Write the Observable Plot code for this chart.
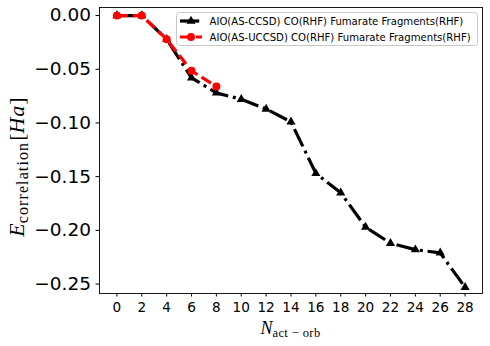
<!DOCTYPE html>
<html><head><meta charset="utf-8">
<script src="https://cdn.jsdelivr.net/npm/d3@7"></script>
<script src="https://cdn.jsdelivr.net/npm/@observablehq/plot@0.6"></script>
<style>body{margin:0;background:#fff;} #chart{width:490px;height:346px;}</style>
</head><body><div id="chart"></div>
<script>
const nOrb = [0, 2, 4, 6, 8, 10, 12, 14, 16, 18, 20, 22, 24, 26, 28];
const ccsdE = [0, 0, -0.022, -0.058, -0.072, -0.078, -0.087, -0.099, -0.147, -0.165, -0.197, -0.212, -0.218, -0.221, -0.253];
const nOrbU = [0, 2, 4, 6, 8];
const uccsdE = [0, 0, -0.022, -0.0515, -0.066];
const xTicks = [0, 2, 4, 6, 8, 10, 12, 14, 16, 18, 20, 22, 24, 26, 28];
const yTicks = [0, -0.05, -0.10, -0.15, -0.20, -0.25];
const seriesNames = ["AIO(AS-CCSD) CO(RHF) Fumarate Fragments(RHF)", "AIO(AS-UCCSD) CO(RHF) Fumarate Fragments(RHF)"];
const seriesColors = ["#000000", "#ff0000"];

const ccsd = nOrb.map((x, i) => ({x, y: ccsdE[i]}));
const uccsd = nOrbU.map((x, i) => ({x, y: uccsdE[i]}));

const dashDot = "19.2,4.8,3,4.8";
const dashed = "11.1,4.8";

const chart = Plot.plot({
  width: 490, height: 346,
  marginLeft: 99, marginRight: 8, marginTop: 7, marginBottom: 53,
  style: {fontFamily: "DejaVu Sans", background: "#fff", color: "#000"},
  x: {domain: [-1.4, 29.4]},
  y: {domain: [-0.2588, 0.0075]},
  marks: [
    Plot.axisX({ticks: xTicks, tickSize: 3.5, tickPadding: 5.5, fontSize: 13.6, label: null, tickFormat: d => String(d)}),
    Plot.axisY({ticks: yTicks, tickSize: 3.5, tickPadding: 5, fontSize: 18.5, label: null, tickFormat: d3.format(".2f")}),
    Plot.line(ccsd, {x: "x", y: "y", stroke: seriesColors[0], strokeWidth: 3.2, strokeDasharray: dashDot, strokeLinecap: "butt", strokeLinejoin: "round"}),
    Plot.dot(ccsd, {x: "x", y: "y", symbol: "triangle", r: 3.4, fill: seriesColors[0], stroke: "none"}),
    Plot.line(uccsd, {x: "x", y: "y", stroke: seriesColors[1], strokeWidth: 3.2, strokeDasharray: dashed, strokeLinecap: "butt", strokeLinejoin: "round"}),
    Plot.dot(uccsd, {x: "x", y: "y", symbol: "circle", r: 4, fill: seriesColors[1], stroke: "none"}),
    Plot.frame({stroke: "#000", strokeWidth: 0.9})
  ]
});

document.getElementById("chart").appendChild(chart);
const svg = d3.select(chart);

// Y label: E_correlation [Ha]
const yl = svg.append("text")
  .attr("transform", "translate(24,167) rotate(-90)")
  .attr("text-anchor", "middle")
  .attr("font-family", "Liberation Serif")
  .attr("font-size", 22)
  .attr("fill", "#000");
yl.append("tspan").attr("font-style", "italic").text("E");
yl.append("tspan").attr("font-size", 16).attr("letter-spacing", 1.1).attr("dy", 3.5).text("correlation");
yl.append("tspan").attr("dy", -3.5).attr("dx", 1).text("[");
yl.append("tspan").attr("font-style", "italic").attr("letter-spacing", 1).text("Ha");
yl.append("tspan").text("]");

// X label: N_act-orb
const xl = svg.append("text")
  .attr("x", 290.5).attr("y", 334)
  .attr("text-anchor", "middle")
  .attr("font-family", "Liberation Serif")
  .attr("font-size", 18)
  .attr("fill", "#000");
xl.append("tspan").attr("font-style", "italic").text("N");
xl.append("tspan").attr("font-size", 12.5).attr("letter-spacing", 0.4).attr("dy", 2.5).text("act \u2212 orb");

// Legend
const lg = svg.append("g").attr("text-anchor", "start");
lg.append("rect").attr("x", 176.5).attr("y", 12.5).attr("width", 301).attr("height", 33)
  .attr("rx", 3).attr("fill", "#ffffff").attr("fill-opacity", 0.8).attr("stroke", "#c8c8c8").attr("stroke-width", 1);
const rows = [
  {y: 21, dash: dashDot, sym: d3.symbol(d3.symbolTriangle, 3.4 * 3.4 * Math.PI)},
  {y: 37, dash: dashed, sym: d3.symbol(d3.symbolCircle, 4 * 4 * Math.PI)}
];
rows.forEach((r, i) => {
  lg.append("line").attr("x1", 180).attr("x2", 202).attr("y1", r.y).attr("y2", r.y)
    .attr("stroke", seriesColors[i]).attr("stroke-width", 3.2).attr("stroke-dasharray", r.dash);
  lg.append("path").attr("d", r.sym()).attr("transform", `translate(191,${r.y})`).attr("fill", seriesColors[i]);
  lg.append("text").attr("x", 209.5).attr("y", r.y).attr("dy", "0.35em")
    .attr("text-anchor", "start")
    .attr("font-family", "DejaVu Sans").attr("font-size", 10.1).attr("fill", "#000")
    .text(seriesNames[i]);
});
</script>
</body></html>
